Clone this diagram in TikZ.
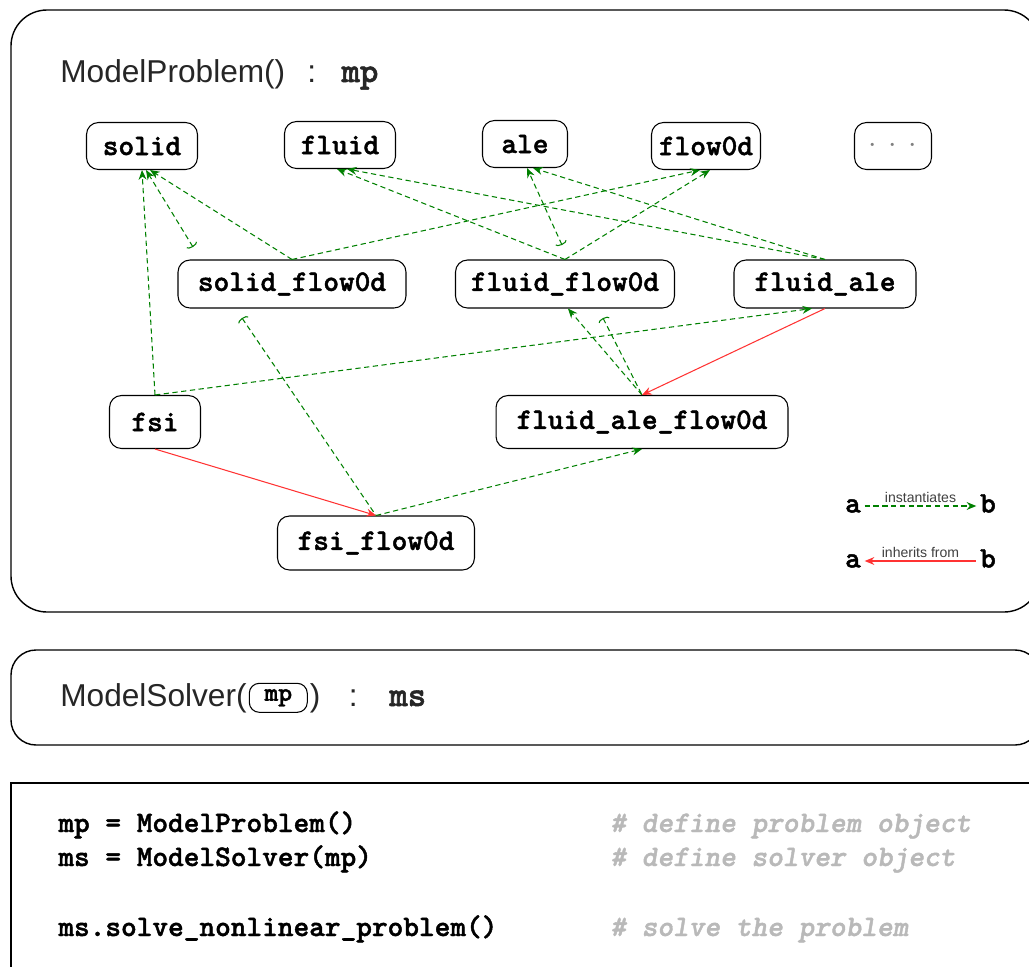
\documentclass[tikz,border=0pt]{standalone}
\usepackage{fontspec}
\setmainfont{Liberation Sans}
\newfontfamily\codett[FakeBold=1.5]{lmmonolt10-bold.otf}
\newfontfamily\cmttit[FakeBold=1.5]{lmmonolt10-boldoblique.otf}
\usetikzlibrary{arrows.meta, positioning}
\definecolor{instgreen}{RGB}{0,128,0}
\definecolor{inhred}{RGB}{255,51,51}
\definecolor{cmtgray}{RGB}{185,185,185}

\begin{document}
\begin{tikzpicture}[x=0.02cm, y=-0.02cm, >={Stealth[length=5.5pt,width=4.5pt]},
  cls/.style={draw, rounded corners=0.24cm, line width=0.6pt, inner sep=0pt,
    font=\codett\fontsize{17}{20}\selectfont},
  frame/.style={draw, line width=0.8pt},
  inst/.style={instgreen, dash pattern=on 3pt off 2pt, line width=0.6pt},
  inh/.style={inhred, line width=0.6pt},
  tee/.style={{Arc Barb[length=1.5pt,width=7pt]}-},
  teearrow/.style={{Arc Barb[length=1.5pt,width=7pt]}->},
  title/.style={font=\fontsize{18}{22}\selectfont, text=black!85, inner sep=0pt, anchor=base west},
  code/.style={font=\codett\fontsize{17}{20}\selectfont, inner sep=0pt, anchor=base west},
  comment/.style={code, font=\cmttit\fontsize{17}{20}\selectfont, text=cmtgray},
  key/.style={inner sep=2pt, text height=1.6ex, text depth=0.2ex,
    font=\codett\fontsize{17}{20}\selectfont},
  lbl/.style={font=\fontsize{8}{9}\selectfont, text=black!75, inner sep=1.5pt}]

\useasboundingbox (0,0) rectangle (1029,967);
\clip (0,0) rectangle (1029,967);

% the three frames
\draw[frame, rounded corners=0.72cm] (11,10) rectangle (1040,612);
\draw[frame, rounded corners=0.5cm] (11,650) rectangle (1040,745);
\draw[frame] (11,783) rectangle (1040,1000);

% problem frame: title and classes
\node[title] (mptitle) at (60,82)
{ModelProblem()\hspace{0.7em}:\hspace{0.8em}{\codett\fontsize{20}{22}\selectfont mp}};

  \node[cls, minimum width=2.22cm, minimum height=0.94cm] (solid) at (142,146)
{solid};
  \node[cls, minimum width=2.22cm, minimum height=0.94cm] (fluid) at (340,145)
{fluid};
  \node[cls, minimum width=1.70cm, minimum height=0.94cm] (ale) at (525,144)
{ale};
  \node[cls, minimum width=2.18cm, minimum height=0.94cm] (flow0d) at (706,146)
{flow0d};
  \node[cls, minimum width=1.54cm, minimum height=0.94cm] (more) at (893,146)
{\textcolor{gray}{$\cdot\,\cdot\,\cdot$}};
  \node[cls, minimum width=4.56cm, minimum height=0.96cm] (solid_flow0d) at (292,284)
{solid\_flow0d};
  \node[cls, minimum width=4.38cm, minimum height=0.96cm] (fluid_flow0d) at (565,284)
{fluid\_flow0d};
  \node[cls, minimum width=3.64cm, minimum height=0.96cm] (fluid_ale) at (825,284)
{fluid\_ale};
  \node[cls, minimum width=1.82cm, minimum height=1.06cm] (fsi) at (155,422)
{fsi};
  \node[cls, minimum width=5.84cm, minimum height=1.06cm] (fluid_ale_flow0d) at (642,422)
{fluid\_ale\_flow0d};
  \node[cls, minimum width=3.94cm, minimum height=1.08cm] (fsi_flow0d) at (376,543)
{fsi\_flow0d};

% loose ends
\coordinate (t1) at (193,247);
\coordinate (t2) at (562,245);
\coordinate (t3) at (242,318);
\coordinate (t4) at (603,318);

% instantiations
  \path[inst, ->] (fsi.north) edge ([xshift=0cm]solid.south)
             edge ([xshift=-0.26cm]fluid_ale.south)
        (solid_flow0d.north) edge ([xshift=0.16cm]solid.south)
             edge ([xshift=-0.12cm]flow0d.south)
        (fluid_flow0d.north) edge ([xshift=-0.06cm]fluid.south)
             edge ([xshift=0.08cm]flow0d.south)
        (fluid_ale.north) edge ([xshift=0.14cm]fluid.south)
             edge ([xshift=0.16cm]ale.south)
        (fsi_flow0d.north) edge (fluid_ale_flow0d.south)
        (fluid_ale_flow0d.north) edge ([xshift=0.06cm]fluid_flow0d.south);
  \path[inst] (t1) edge[teearrow] ([xshift=0.08cm]solid.south)
        (t2) edge[teearrow] ([xshift=0.04cm]ale.south)
        (t3) edge[tee] (fsi_flow0d.north)
        (t4) edge[tee] (fluid_ale_flow0d.north);

% inheritance
  \path[inh, ->] (fsi.south) edge (fsi_flow0d.north)
        (fluid_ale.south) edge (fluid_ale_flow0d.north);

% legend
\node[key] (ia) at (853,506) {a};
\node[key] (ib) at (988,506) {b};
\node[key] (ha) at (853,561) {a};
\node[key] (hb) at (988,561) {b};
\draw[inst, ->] (ia) -- (ib) node[midway, above, lbl] {instantiates};
\draw[inh, <-] (ha) -- (hb) node[midway, above, lbl] {inherits from};

% solver frame
\node[title] (msname) at (60,706) {ModelSolver(};
\node[draw, rounded corners=0.2cm, line width=0.6pt, minimum width=1.16cm, minimum height=0.58cm,
  inner sep=0pt, font=\codett\fontsize{15}{17}\selectfont,
  right=1pt of msname] (mpref) {mp};
\node[title, right=1pt of mpref] (msrest)
{)\hspace{0.9em}:\hspace{1em}{\codett\fontsize{20}{22}\selectfont ms}};

% code frame
\node[code] (line1) at (58,832) {mp = ModelProblem()};
\node[code] (line2) at (58,866) {ms = ModelSolver(mp)};
\node[code] (line3) at (58,936) {ms.solve\_nonlinear\_problem()};
\node[comment] (cmt1) at (610,832) {\# define problem object};
\node[comment] (cmt2) at (610,866) {\# define solver object};
\node[comment] (cmt3) at (610,936) {\# solve the problem};

\end{tikzpicture}
\end{document}
